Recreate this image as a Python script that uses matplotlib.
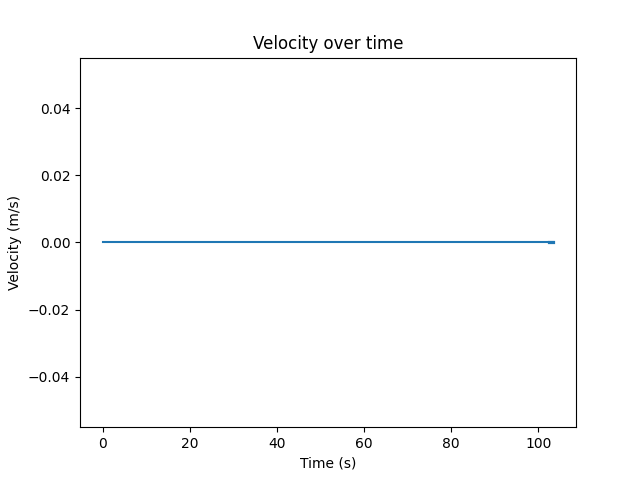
import matplotlib
matplotlib.use("Agg")
import matplotlib.pyplot as plt

# time stamps (s) and measured velocity (m/s)
time_s = [0.0, 20.0, 40.0, 60.0, 80.0, 100.0, 103.5]
velocity = [0.0, 0.0, 0.0, 0.0, 0.0, 0.0, 0.0]

fig, ax = plt.subplots(figsize=(6.4, 4.8), dpi=100)
ax.plot(time_s, velocity)
# short thicker tail at the end of the trace
ax.plot(time_s[-1:] + [time_s[-1] - 1.1], velocity[-1:] * 2, color="C0", linewidth=2.3)
ax.set_title("Velocity over time")
ax.set_xlabel("Time (s)")
ax.set_ylabel("Velocity (m/s)")
fig.savefig("out.png")
